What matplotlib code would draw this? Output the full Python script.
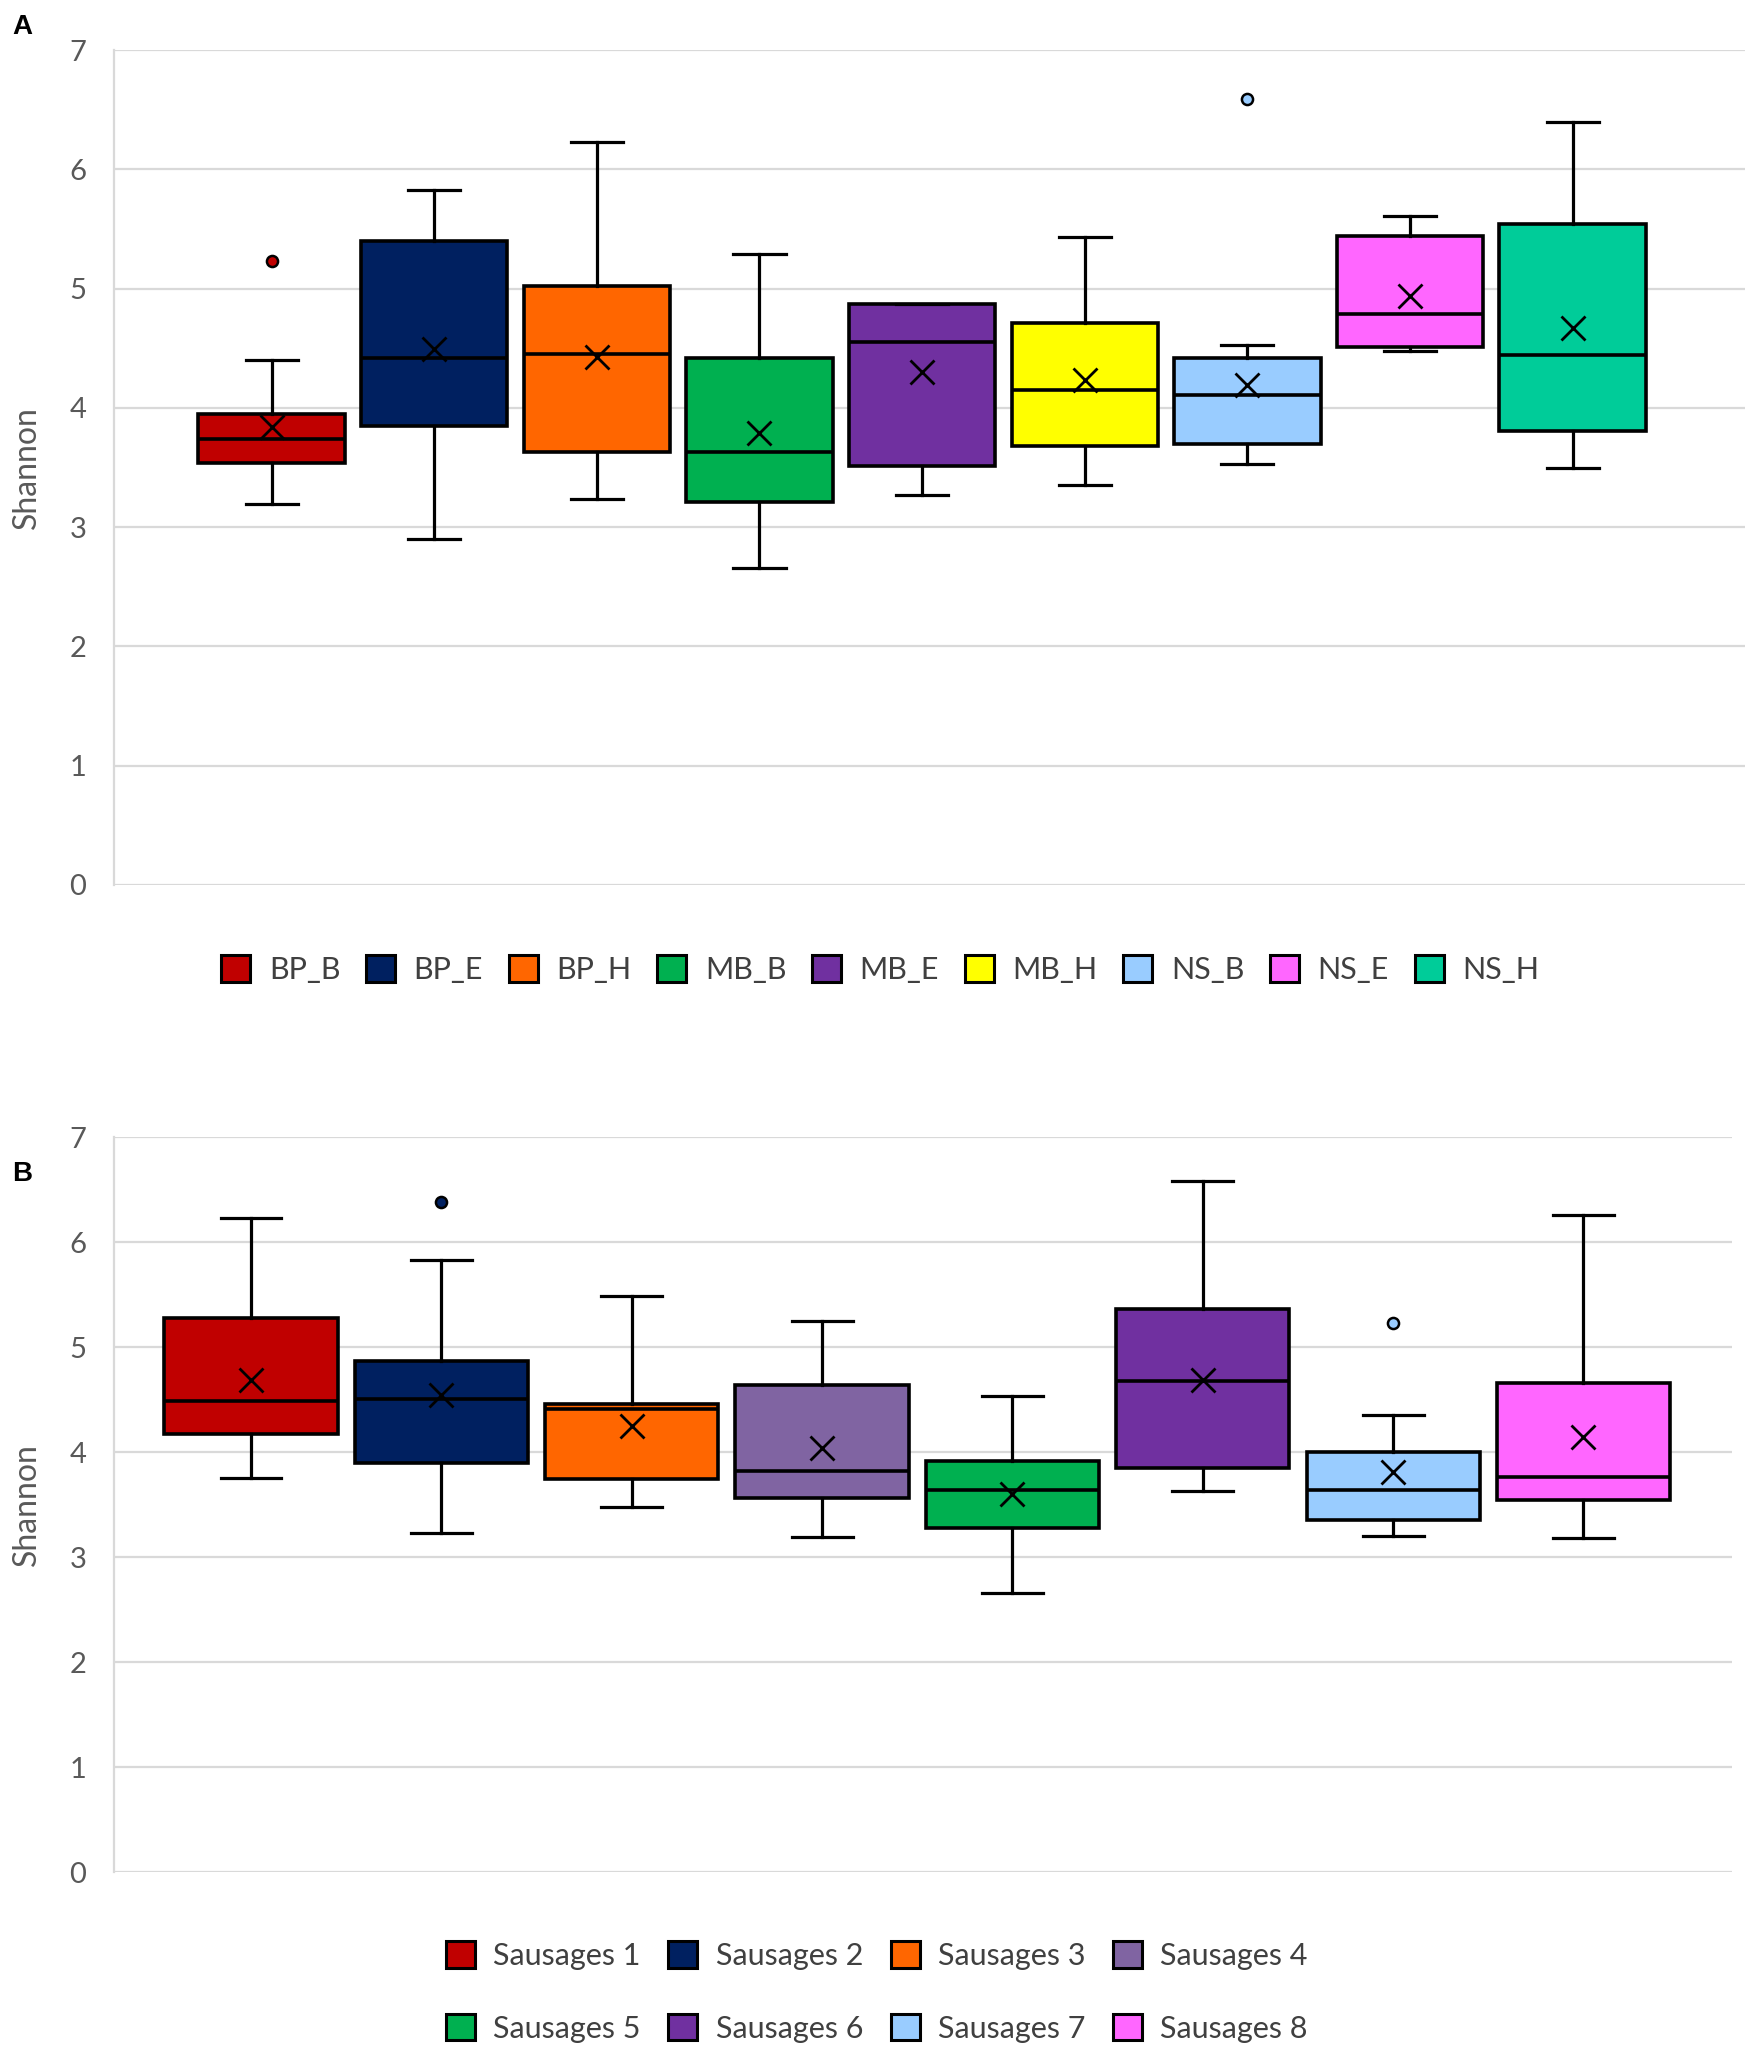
import matplotlib
matplotlib.use("Agg")
import matplotlib.pyplot as plt
from matplotlib.patches import Patch

# ---------------- Data: Panel A ----------------
a_labels = ["BP_B", "BP_E", "BP_H", "MB_B", "MB_E", "MB_H", "NS_B", "NS_E", "NS_H"]
a_whislo = [3.19, 2.90, 3.24, 2.66, 3.27, 3.35, 3.53, 4.48, 3.50]
a_q1     = [3.54, 3.85, 3.63, 3.21, 3.51, 3.68, 3.70, 4.51, 3.81]
a_med    = [3.74, 4.42, 4.45, 3.63, 4.55, 4.15, 4.11, 4.79, 4.44]
a_q3     = [3.95, 5.40, 5.02, 4.42, 4.87, 4.71, 4.42, 5.44, 5.54]
a_whishi = [4.40, 5.83, 6.23, 5.29, 4.87, 5.43, 4.53, 5.61, 6.40]
a_mean   = [3.84, 4.49, 4.43, 3.79, 4.30, 4.23, 4.19, 4.94, 4.67]
a_fliers = [[5.23], [], [], [], [], [], [6.59], [], []]
a_colors = ["#C00000", "#002060", "#FF6600", "#00B050", "#7030A0",
            "#FFFF00", "#99CCFF", "#FF66FF", "#00CC99"]

# ---------------- Data: Panel B ----------------
b_labels = ["Sausages 1", "Sausages 2", "Sausages 3", "Sausages 4",
            "Sausages 5", "Sausages 6", "Sausages 7", "Sausages 8"]
b_whislo = [3.75, 3.23, 3.48, 3.19, 2.66, 3.63, 3.20, 3.18]
b_q1     = [4.17, 3.90, 3.74, 3.56, 3.28, 3.85, 3.35, 3.54]
b_med    = [4.49, 4.51, 4.41, 3.82, 3.64, 4.68, 3.64, 3.76]
b_q3     = [5.28, 4.87, 4.46, 4.64, 3.92, 5.36, 4.00, 4.66]
b_whishi = [6.23, 5.83, 5.49, 5.25, 4.53, 6.58, 4.35, 6.26]
b_mean   = [4.69, 4.54, 4.25, 4.04, 3.60, 4.69, 3.81, 4.14]
b_fliers = [[], [6.38], [], [], [], [], [5.23], []]
b_colors = ["#C00000", "#002060", "#FF6600", "#8064A2",
            "#00B050", "#7030A0", "#99CCFF", "#FF66FF"]

y_ticks = [0, 1, 2, 3, 4, 5, 6, 7]
y_label = "Shannon"

FONT = ["Lato", "DejaVu Sans"]
TXT = "#595959"
LEG_TXT = "#404040"
GRID = "#D9D9D9"

fig = plt.figure(figsize=(17.5, 20.5), dpi=100)


def draw_panel(ax, labels, whislo, q1, med, q3, whishi, mean, fliers, colors,
               xlim, width):
    stats = []
    for i in range(len(labels)):
        stats.append(dict(label=labels[i], whislo=whislo[i], q1=q1[i], med=med[i],
                          q3=q3[i], whishi=whishi[i], mean=mean[i], fliers=fliers[i]))
    pos = list(range(1, len(labels) + 1))
    bp = ax.bxp(stats, positions=pos, widths=width, showmeans=True,
                patch_artist=True, showfliers=True,
                boxprops=dict(linewidth=2.6, edgecolor="black"),
                medianprops=dict(color="black", linewidth=2.6),
                whiskerprops=dict(color="black", linewidth=2.3),
                capprops=dict(color="black", linewidth=2.3),
                capwidths=0.32,
                meanprops=dict(marker="x", markeredgecolor="black",
                               markersize=17, markeredgewidth=2.0),
                flierprops=dict(marker="o", markersize=8, markeredgecolor="black",
                                markeredgewidth=1.8))
    for patch, c in zip(bp["boxes"], colors):
        patch.set_facecolor(c)
    for fl, c in zip(bp["fliers"], colors):
        fl.set_markerfacecolor(c)
    for ln in bp["means"]:
        ln.set_zorder(5)
    ax.set_xlim(*xlim)
    ax.set_ylim(0, 7)
    ax.set_yticks(y_ticks)
    ax.set_yticklabels([str(t) for t in y_ticks], fontfamily=FONT, fontsize=21, color=TXT)
    ax.set_xticks([])
    ax.tick_params(axis="y", length=0, pad=20)
    ax.yaxis.grid(True, color=GRID, linewidth=1.6)
    ax.set_axisbelow(True)
    for s in ["top", "right", "bottom"]:
        ax.spines[s].set_visible(False)
    ax.spines["left"].set_color(GRID)
    ax.spines["left"].set_linewidth(1.6)
    ax.set_ylabel(y_label, fontfamily=FONT, fontsize=23, color=TXT)


axA = fig.add_axes([0.0651, 0.5683, 0.932, 0.4073])
draw_panel(axA, a_labels, a_whislo, a_q1, a_med, a_q3, a_whishi, a_mean, a_fliers,
           a_colors, (0.03, 10.06), 0.9)
axA.yaxis.set_label_coords(-0.044, 0.5)
axB = fig.add_axes([0.0651, 0.0868, 0.9246, 0.3585])
draw_panel(axB, b_labels, b_whislo, b_q1, b_med, b_q3, b_whishi, b_mean, b_fliers,
           b_colors, (0.28, 8.78), 0.91)
axB.yaxis.set_label_coords(-0.0445, 0.5)

# legends
hA = [Patch(facecolor=c, edgecolor="black", linewidth=2.2) for c in a_colors]
fig.legend(hA, a_labels, loc="center", bbox_to_anchor=(0.503, 0.527), ncol=9,
           frameon=False, prop=dict(family=FONT, size=22), labelcolor=LEG_TXT,
           handlelength=0.95, handleheight=0.95, handletextpad=0.6, columnspacing=0.85)

# row-wise ordering for a 2 x 4 legend (matplotlib fills column by column)
nrow, ncolB = 2, 4
order = [r * ncolB + c for c in range(ncolB) for r in range(nrow)]
hB = [Patch(facecolor=b_colors[i], edgecolor="black", linewidth=2.2) for i in order]
lB = [b_labels[i] for i in order]
fig.legend(hB, lB, loc="center", bbox_to_anchor=(0.501, 0.0283), ncol=ncolB,
           frameon=False, prop=dict(family=FONT, size=22), labelcolor=LEG_TXT,
           handlelength=0.95, handleheight=0.95, handletextpad=0.6, columnspacing=0.9,
           labelspacing=1.45)

fig.text(0.0126, 0.987, "A", fontfamily=["Liberation Sans", "DejaVu Sans"],
         fontweight="bold", fontsize=20, ha="center", va="center")
fig.text(0.0126, 0.4273, "B", fontfamily=["Liberation Sans", "DejaVu Sans"],
         fontweight="bold", fontsize=20, ha="center", va="center")

fig.savefig("out.png", dpi=100, facecolor="white")
